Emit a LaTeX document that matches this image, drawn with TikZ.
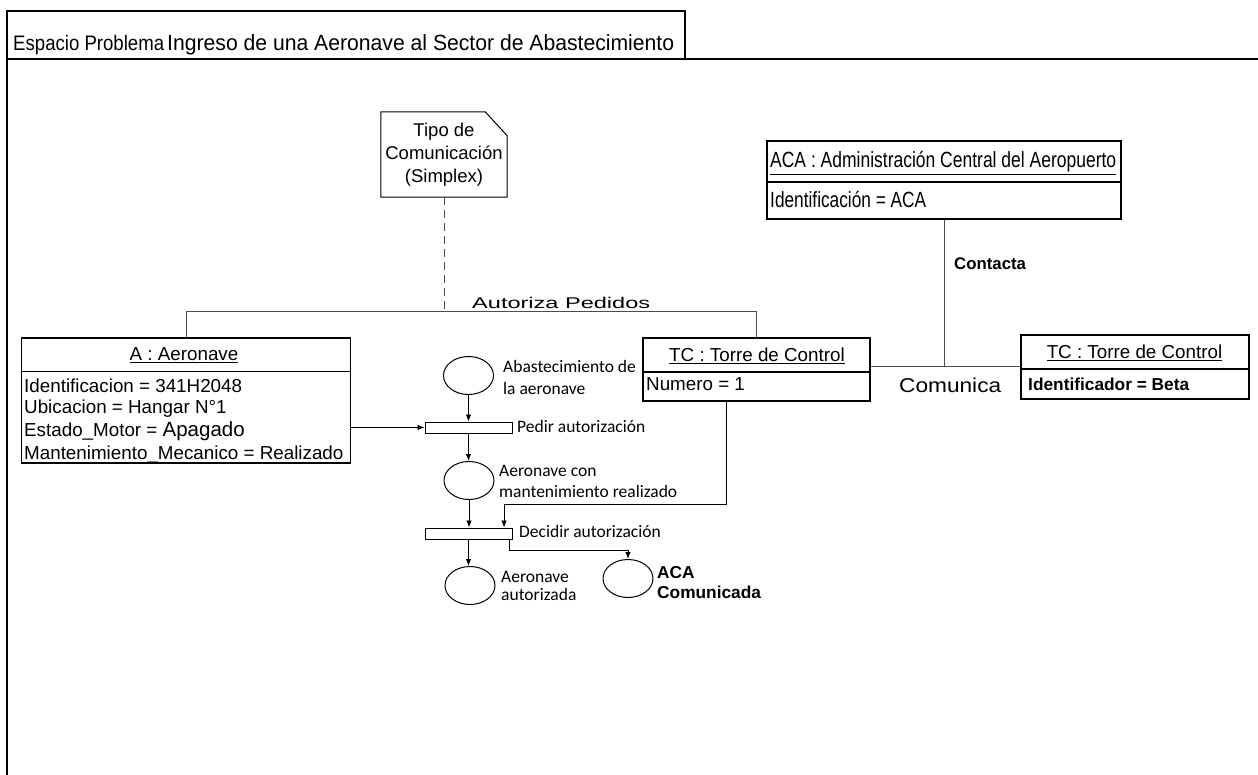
\documentclass[tikz,border=0pt]{standalone}
\usepackage{fontspec}
\usepackage{graphicx}
\setmainfont{Liberation Sans}
\newfontfamily\carlito{Carlito}
\usetikzlibrary{arrows.meta,shapes.geometric}
\newcommand\fs[1]{\fontsize{#1pt}{#1pt}\selectfont}
\newcommand\wfit[2]{\resizebox{#1pt}{\height}{#2}}

\begin{document}
\begin{tikzpicture}[x=1pt,y=-1pt,
  frameline/.style={line width=2pt, black},
  objbox/.style={draw=black, line width=1.3pt, rectangle, inner sep=0pt},
  txt/.style={inner sep=0pt, anchor=base west},
  txtc/.style={inner sep=0pt, anchor=base},
  assoc/.style={draw=black!70, line width=1pt},
  place/.style={ellipse, draw=black, line width=1pt, minimum width=50pt, minimum height=38pt, inner sep=0pt},
  trans/.style={rectangle, draw=black, line width=1pt, minimum width=87pt, minimum height=11pt, inner sep=0pt},
  arc/.style={draw=black, line width=0.9pt, -{Latex[length=7pt,width=5.5pt]}},
  petri/.style={font=\carlito\fs{17.5}},
  attr/.style={txt, font=\fs{18.8}},
]
\useasboundingbox (0,0) rectangle (1258,775);

% frame with title tab
\draw[frameline] (7,775) -- (7,11) -- (685,11) -- (685,59.5);
\draw[frameline] (7,59.5) -- (1258,59.5);
\node[txt, font=\fs{21}] (tEsp) at (13,51) {\wfit{151}{Espacio Problema}};
\node[txt, font=\fs{22}] (tIng) at (167,51) {\wfit{507}{Ingreso de una Aeronave al Sector de Abastecimiento}};

% note
\node[minimum width=126pt, minimum height=85pt, inner sep=0pt] (note) at (444,154.5) {};
\draw[line width=1pt] (note.south west) -- (note.north west) -- ([xshift=-22pt]note.north east)
  -- ([yshift=-24pt]note.north east) -- (note.south east) -- cycle;
\node[txtc, font=\fs{18.5}] (n1) at (444,137) {Tipo de};
\node[txtc, font=\fs{18.5}] (n2) at (444,160) {Comunicación};
\node[txtc, font=\fs{18.5}] (n3) at (444,183) {(Simplex)};

% object A : Aeronave
\node[objbox, minimum width=329pt, minimum height=33.7pt] (aeroH) at (186.2,354.85) {};
\node[objbox, minimum width=329pt, minimum height=91.3pt] (aeroB) at (186.2,417.35) {};
\node[txtc, font=\fs{18.8}] (aeroT) at (184,361) {\underline{A : Aeronave}};
\node[attr] (a1) at (24,392) {Identificacion = 341H2048};
\node[attr] (a2) at (24,413.5) {Ubicacion = Hangar N°1};
\node[attr] (a3) at (24,436) {Estado\_Motor = {\fs{20.5}Apagado}};
\node[attr] (a4) at (24,459) {Mantenimiento\_Mecanico = Realizado};

% object TC : Torre de Control (Numero = 1)
\node[objbox, minimum width=227pt, minimum height=34pt] (tcH) at (756.5,355) {};
\node[objbox, minimum width=227pt, minimum height=29pt] (tcB) at (756.5,386.5) {};
\node[txtc, font=\fs{18.8}] (tcT) at (757,362) {\underline{TC : Torre de Control}};
\node[attr] (tc1) at (646,391) {Numero = 1};

% object TC : Torre de Control (Beta)
\node[objbox, minimum width=228pt, minimum height=34pt] (tc2H) at (1135,352) {};
\node[objbox, minimum width=228pt, minimum height=30pt] (tc2B) at (1135,384) {};
\node[txtc, font=\fs{18.8}] (tc2T) at (1134.5,359) {\underline{TC : Torre de Control}};
\node[txt, font=\bfseries\fs{17.3}] (tc21) at (1028,391) {Identificador = Beta};

% object ACA
\node[objbox, minimum width=354pt, minimum height=41pt] (acaH) at (944,161.5) {};
\node[objbox, minimum width=354pt, minimum height=37pt] (acaB) at (944,200.5) {};
\node[txt, font=\fs{22}] (acaT) at (770,168) {\wfit{346}{\underline{ACA : Administración Central del Aeropuerto}}};
\node[txt, font=\fs{22}] (aca1) at (770,208) {\wfit{156}{Identificación = ACA}};

% links between objects
\coordinate (bus) at (0,312);
\coordinate (comy) at (0,367);
\draw[assoc] (aeroH.north) -- (aeroH.north |- bus) -| (tcH.north);
\draw[assoc, dash pattern=on 8pt off 5pt] (note.south) -- (note.south |- bus);
\node[txt, font=\fs{15.5}] (autL) at (472,308.5) {\wfit{178}{Autoriza Pedidos}};
\draw[assoc] (tcH.east |- comy) -- (tc2H.west |- comy);
\node[txt, font=\fs{20}] (comL) at (899,392) {\wfit{102}{Comunica}};
\draw[assoc] (acaB.south) -- (acaB.south |- comy);
\node[txt, font=\bfseries\fs{16.8}] (conL) at (954,270) {Contacta};

% Petri net
\node[place] (p1) at (468.5,375.5) {};
\node[place] (p2) at (469,480.5) {};
\node[place] (p3) at (470,585.5) {};
\node[place] (p4) at (628,578.5) {};
\node[trans] (t1) at (468.5,427.5) {};
\node[trans] (t2) at (468.5,533.5) {};

\draw[arc] (p1.south) -- (t1.north);
\draw[arc] (aeroB.east |- t1.west) -- (t1.west);
\draw[arc] (t1.south) -- (t1.south |- p2.north);
\draw[arc] (p2.south) -- (p2.south |- t2.north);
\draw[arc] ([xshift=-30.5pt]tcB.south) -- ++(0,103) -| ([xshift=35.5pt]t2.north);
\draw[arc] (t2.south) -- (t2.south |- p3.north);
\draw[arc] ([xshift=40.5pt]t2.south) -- ++(0,11) -| (p4.north);

\node[txt, petri] (l1a) at (503,373) {Abastecimiento de};
\node[txt, petri] (l1b) at (503,394) {la aeronave};
\node[txt, petri] (lt1) at (517,432) {Pedir autorización};
\node[txt, petri] (l2a) at (499,476) {Aeronave con};
\node[txt, petri] (l2b) at (499,497) {mantenimiento realizado};
\node[txt, petri] (lt2) at (519,537) {Decidir autorización};
\node[txt, petri] (l3a) at (501,582) {Aeronave};
\node[txt, petri] (l3b) at (501,600) {autorizada};
\node[txt, font=\bfseries\fs{17.3}] (l4a) at (657,578) {ACA};
\node[txt, font=\bfseries\fs{17.3}] (l4b) at (657,598) {Comunicada};
\end{tikzpicture}
\end{document}
